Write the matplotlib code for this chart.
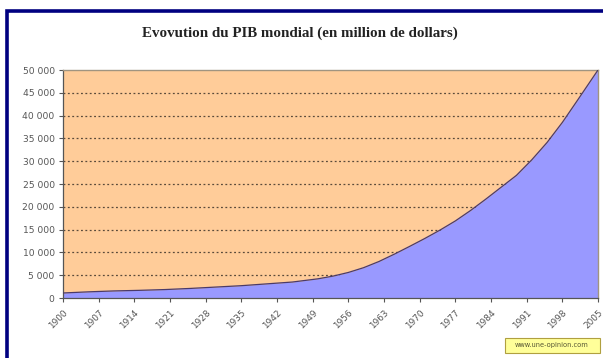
import matplotlib
matplotlib.use("Agg")
import matplotlib.pyplot as plt
from matplotlib.patches import Rectangle

# World GDP (million dollars) by year
years = [1900, 1905, 1910, 1915, 1920, 1925, 1930, 1935, 1940, 1945, 1950,
         1953, 1956, 1959, 1962, 1965, 1968, 1971, 1974, 1977, 1980, 1983,
         1986, 1989, 1992, 1995, 1998, 2001, 2005]
gdp = [1100, 1350, 1550, 1680, 1850, 2100, 2400, 2700, 3100, 3500, 4200,
       4800, 5600, 6650, 8000, 9600, 11300, 13050, 14900, 16900, 19200, 21700,
       24300, 26900, 30300, 34100, 38500, 43400, 50000]

tick_years = list(range(1900, 2006, 7))
y_ticks = list(range(0, 50001, 5000))
y_labels = [f"{v:,}".replace(",", " ") for v in y_ticks]

title = "Evovution du PIB mondial (en million de dollars)"
credit = "www.une-opinion.com"

W, H = 603, 358
fig = plt.figure(figsize=(W / 100, H / 100), dpi=100)
fig.patch.set_facecolor("white")

# navy frame around the chart
fig.add_artist(Rectangle((7 / W, -0.05), 1.2, (H - 11) / H + 0.05,
                         transform=fig.transFigure, fill=False,
                         edgecolor="#000080", linewidth=2.6))

ax = fig.add_axes([63 / W, (H - 298) / H, (598 - 63) / W, 228 / H])
ax.set_facecolor("#FFCC99")
ax.set_xlim(1900, 2005)
ax.set_ylim(0, 50000)

for v in y_ticks[1:-1]:
    ax.axhline(v, color="#5a4a3a", linewidth=0.9, linestyle=(0, (1.5, 2.0)),
               zorder=1)

ax.fill_between(years, gdp, 0, color="#9999FF", zorder=2, linewidth=0)
ax.plot(years, gdp, color="#4a3a6a", linewidth=0.9, zorder=3)

ax.set_yticks(y_ticks)
ax.set_yticklabels(y_labels, fontsize=6.6, color="#555555",
                   family="DejaVu Sans")
ax.set_xticks(tick_years)
ax.set_xticklabels([str(y) for y in tick_years], fontsize=6.4,
                   color="#555555", rotation=45, ha="right", va="top",
                   rotation_mode="anchor", family="DejaVu Sans")
ax.tick_params(axis="both", length=3, width=0.8, color="#555555")
ax.tick_params(axis="y", pad=3)
ax.tick_params(axis="x", pad=4)

for side in ("left", "bottom"):
    ax.spines[side].set_color("#555555")
    ax.spines[side].set_linewidth(0.9)
for side in ("top", "right"):
    ax.spines[side].set_color("#a09480")
    ax.spines[side].set_linewidth(1.0)

fig.text(300 / W, 1 - 33 / H, title, ha="center", va="center",
         fontsize=10.8, fontweight="bold", family="Liberation Serif",
         color="#222222")

# credit box in the lower right corner
fig.add_artist(Rectangle((505 / W, 1 - 353 / H), 95 / W, 15 / H,
                         transform=fig.transFigure, facecolor="#FFFF99",
                         edgecolor="#b0a040", linewidth=0.8))
fig.text(552 / W, 1 - 345.5 / H, credit, ha="center", va="center",
         fontsize=4.8, color="#555533", family="DejaVu Sans")

fig.savefig("out.png", dpi=100)
